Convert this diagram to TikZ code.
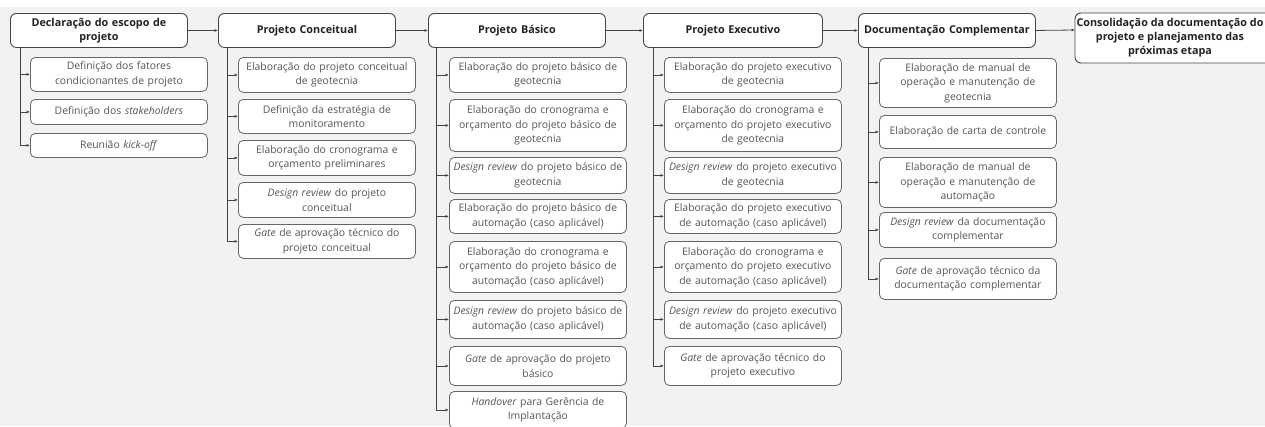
\documentclass[tikz,border=0pt]{standalone}
\usepackage{fontspec}
\setmainfont{Open Sans}
\usetikzlibrary{arrows.meta}
\definecolor{bgc}{HTML}{F2F2F2}
\definecolor{linec}{HTML}{444444}
\definecolor{cborder}{HTML}{666666}
\definecolor{ctext}{HTML}{555555}
\definecolor{htext}{HTML}{222222}
\tikzset{
  headbox/.style={draw=linec, line width=0.9pt, fill=white, rounded corners=6pt,
    minimum width=177pt, minimum height=34pt, inner xsep=1pt, inner ysep=1pt,
    align=center, text width=175pt, text=htext,
    font=\fontsize{10.8}{14}\selectfont\bfseries},
  childbox/.style={draw=cborder, line width=0.8pt, fill=white, rounded corners=5pt,
    minimum width=177pt, inner xsep=0.5pt, inner ysep=1pt,
    align=center, text width=176pt, text=ctext,
    font=\fontsize{10.4}{14.5}\selectfont},
  conn/.style={draw=linec, line width=0.8pt, -{Latex[length=3.5pt,width=3pt]}},
}
\newcommand\mkhead[5]{\node[headbox,anchor=north west,minimum width={#4-#2}] (#1) at (#2,#3) {#5};}
\newcommand\mkchild[5]{\node[childbox,anchor=north west,minimum height={#4-#3}] (#1) at (#2,#3) {#5};}
\begin{document}
\begin{tikzpicture}[x=1pt,y=-1pt]
\useasboundingbox (0,0) rectangle (1265,426);
\clip (0,0) rectangle (1265,426);
\fill[bgc] (0,0) rectangle (1265,426);
\fill[white] (0,0) rectangle (1265,7);

% headers
\mkhead{h1}{10}{13}{185}{Declaração do escopo de\\projeto}
\mkhead{h2}{218}{13}{395}{Projeto Conceitual}
\mkhead{h3}{428}{13}{605}{Projeto Básico}
\mkhead{h4}{643}{13}{822}{Projeto Executivo}
\mkhead{h5}{858}{13}{1035}{Documentação Complementar}
\draw[draw=linec, line width=0.9pt, fill=white, rounded corners=6pt] (1075,13) rectangle (1290,63);
\node[text=htext, align=center, inner sep=0pt, font=\fontsize{10.8}{14}\selectfont\bfseries] (h6) at (1170,38)
  {Consolidação da documentação do\\projeto e planejamento das\\próximas etapa};
\coordinate (h6w) at (1075,30);

\draw[conn] (h1.east) -- (h2.west);
\draw[conn] (h2.east) -- (h3.west);
\draw[conn] (h3.east) -- (h4.west);
\draw[conn] (h4.east) -- (h5.west);
\draw[conn] (h5.east) -- (h6w);

% spines
\coordinate (s1) at (20,47);
\coordinate (s2) at (227,47);
\coordinate (s3) at (436,47);
\coordinate (s4) at (653,47);
\coordinate (s5) at (868,47);

% group 1
\mkchild{c11}{30}{57}{91}{Definição dos fatores\\condicionantes de projeto}
\mkchild{c12}{30}{99}{124}{Definição dos \textit{stakeholders}}
\mkchild{c13}{30}{133}{157}{Reunião \textit{kick-off}}

% group 2
\mkchild{c21}{238}{57}{92}{Elaboração do projeto conceitual\\de geotecnia}
\mkchild{c22}{238}{99}{133}{Definição da estratégia de\\monitoramento}
\mkchild{c23}{238}{140}{175}{Elaboração do cronograma e\\orçamento preliminares}
\mkchild{c24}{238}{182}{217}{\textit{Design review} do projeto\\conceitual}
\mkchild{c25}{238}{224}{258}{\textit{Gate} de aprovação técnico do\\projeto conceitual}

% group 3
\mkchild{c31}{449}{57}{92}{Elaboração do projeto básico de\\geotecnia}
\mkchild{c32}{449}{99}{151}{Elaboração do cronograma e\\orçamento do projeto básico de\\geotecnia}
\mkchild{c33}{449}{157}{193}{\textit{Design review} do projeto básico de\\geotecnia}
\mkchild{c34}{449}{199}{233}{Elaboração do projeto básico de\\automação (caso aplicável)}
\mkchild{c35}{449}{241}{292}{Elaboração do cronograma e\\orçamento do projeto básico de\\automação (caso aplicável)}
\mkchild{c36}{449}{300}{338}{\textit{Design review} do projeto básico de\\automação (caso aplicável)}
\mkchild{c37}{449}{346}{385}{\textit{Gate} de aprovação do projeto\\básico}
\mkchild{c38}{449}{391}{428}{\textit{Handover} para Gerência de\\Implantação}

% group 4
\mkchild{c41}{664}{57}{92}{Elaboração do projeto executivo\\de geotecnia}
\mkchild{c42}{664}{99}{151}{Elaboração do cronograma e\\orçamento do projeto executivo\\de geotecnia}
\mkchild{c43}{664}{157}{193}{\textit{Design review} do projeto executivo\\de geotecnia}
\mkchild{c44}{664}{199}{233}{Elaboração do projeto executivo\\de automação (caso aplicável)}
\mkchild{c45}{664}{241}{292}{Elaboração do cronograma e\\orçamento do projeto executivo\\de automação (caso aplicável)}
\mkchild{c46}{664}{300}{338}{\textit{Design review} do projeto executivo\\de automação (caso aplicável)}
\mkchild{c47}{664}{346}{385}{\textit{Gate} de aprovação técnico do\\projeto executivo}

% group 5
\mkchild{c51}{879}{58}{107}{Elaboração de manual de\\operação e manutenção de\\geotecnia}
\mkchild{c52}{879}{115}{148}{Elaboração de carta de controle}
\mkchild{c53}{879}{157}{207}{Elaboração de manual de\\operação e manutenção de\\automação}
\mkchild{c54}{879}{212}{247}{\textit{Design review} da documentação\\complementar}
\mkchild{c55}{879}{258}{299}{\textit{Gate} de aprovação técnico da\\documentação complementar}

% connectors
\foreach \c in {c11,c12,c13} \draw[conn] (s1) |- (\c.west);
\foreach \c in {c21,c22,c23,c24,c25} \draw[conn] (s2) |- (\c.west);
\foreach \c in {c31,c32,c33,c34,c35,c36,c37,c38} \draw[conn] (s3) |- (\c.west);
\foreach \c in {c41,c42,c43,c44,c45,c46,c47} \draw[conn] (s4) |- (\c.west);
\foreach \c in {c51,c52,c53,c54,c55} \draw[conn] (s5) |- (\c.west);
\end{tikzpicture}
\end{document}
